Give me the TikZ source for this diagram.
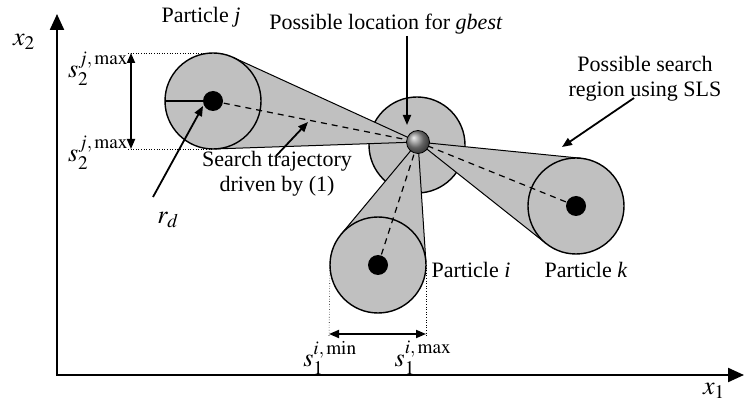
\documentclass[tikz,border=0pt]{standalone}
\usepackage{mathptmx}
\usepackage[no-math]{fontspec}
\setmainfont{Liberation Serif}
\usetikzlibrary{arrows.meta,calc,shadings}
\definecolor{regfill}{RGB}{192,192,192}
\begin{document}
\begin{tikzpicture}[x=1pt,y=-1pt,
  every node/.style={font=\fontsize{22}{25}\selectfont},
  mathlbl/.style={inner sep=0pt,font=\fontsize{26}{28}\selectfont},
  region/.style={circle,draw,line width=1.4pt,fill=regfill,minimum size=96pt,inner sep=0pt,outer sep=0pt},
  dotnode/.style={circle,fill=black,minimum size=20pt,inner sep=0pt},
  axis/.style={line width=2.2pt,-{Triangle[length=16pt,width=14pt]}},
  pointer/.style={line width=1.8pt,-{Triangle[length=10pt,width=8pt]}},
  dimarrow/.style={line width=1.8pt,{Triangle[length=10pt,width=8pt]}-{Triangle[length=10pt,width=8pt]}},
  cone/.style={line width=1pt},
  traj/.style={line width=1.2pt,dash pattern=on 6pt off 5pt},
  guide/.style={line width=0.6pt,dotted},
  lbl/.style={inner sep=1pt}]
\useasboundingbox (0,0) rectangle (744,403);
% axes
\coordinate (O) at (57,375);
\coordinate (ytop) at (57,14);
\coordinate (xend) at (744,375);
\draw[axis] (O) -- (ytop);
\draw[axis] ([xshift=-1.1pt]O) -- (xend);
\node[mathlbl] (x2) at (24,42) {$x_2$};
\node[mathlbl] (x1) at (714,391) {$x_1$};
% centres
\coordinate (g) at (418,142);
\node[region] (cg) at (417,145) {};
\coordinate (pj) at (213,101);
\coordinate (pi) at (378,265);
\coordinate (pk) at (576,206);
% tangent points
\foreach \p in {j,i,k}{
  \node[circle,minimum size=96pt,inner sep=0pt,outer sep=0pt] (tmp\p) at (p\p) {};
  \coordinate (t\p a) at (tangent cs:node=tmp\p,point={(g)},solution=1);
  \coordinate (t\p b) at (tangent cs:node=tmp\p,point={(g)},solution=2);
  \fill[regfill] (g) -- (t\p a) -- (p\p) -- (t\p b) -- cycle;
  \draw[cone] (g) -- (t\p a);
  \draw[cone] (g) -- (t\p b);
}
% particle circles
\node[region] (cj) at (pj) {};
\node[region] (ci) at (pi) {};
\node[region] (ck) at (pk) {};
% trajectories
\draw[traj] (pj) -- (g);
\draw[traj] (pi) -- (g);
\draw[traj] (pk) -- (g);
% radius
\draw[line width=1.4pt] (cj.west) -- (pj);
% dots
\node[dotnode] (dj) at (pj) {};
\node[dotnode] (di) at (pi) {};
\node[dotnode] (dk) at (pk) {};
\shade[ball color=gray!90] (g) circle (11.5pt);
\draw[line width=0.8pt] (g) circle (11.5pt);
% labels
\node[lbl] (lj) at (201,17) {Particle \textit{j}};
\node[lbl] (lgb) at (386,24) {Possible location for \textit{gbest}};
\coordinate (gbtop) at (407,36);
\coordinate (gbtip) at (407,125);
\draw[pointer] (gbtop) -- (gbtip);
\node[lbl,align=center] (lsls) at (645,79) {Possible search\\region using SLS};
\coordinate (slsstart) at (634,98);
\coordinate (slstip) at (562,147);
\draw[pointer] (slsstart) -- (slstip);
\node[lbl,align=center] (ltraj) at (277,174) {Search trajectory\\driven by (1)};
\coordinate (trstart) at (276,156);
\coordinate (trtip) at (308,122);
\draw[pointer] (trstart) -- (trtip);
\node[lbl] (li) at (471,270) {Particle \textit{i}};
\node[lbl] (lk) at (586,270) {Particle \textit{k}};
\node[mathlbl] (lrd) at (168,220) {$r_d$};
\coordinate (rdstart) at (153,197);
\coordinate (rdtip) at (203,106);
\draw[pointer] (rdstart) -- (rdtip);
% s2 dimension
\coordinate (s2top) at (131,53);
\coordinate (s2bot) at (131,149);
\draw[guide] (128,53) -- (cj.north);
\draw[guide] (128,149) -- (cj.south);
\draw[dimarrow] (s2top) -- (s2bot);
\node[mathlbl] (s2a) at (98,69) {$s_2^{j,\,\mathrm{max}}$};
\node[mathlbl] (s2b) at (98,153) {$s_2^{j,\,\mathrm{max}}$};
% s1 dimension
\coordinate (s1l) at (329,334);
\coordinate (s1r) at (426,334);
\draw[guide] (ci.west) -- (329,337);
\draw[guide] (ci.east) -- (426,337);
\draw[dimarrow] (s1l) -- (s1r);
\node[mathlbl] (s1a) at (330,358) {$s_1^{i,\,\mathrm{min}}$};
\node[mathlbl] (s1b) at (423,358) {$s_1^{i,\,\mathrm{max}}$};
\end{tikzpicture}
\end{document}
